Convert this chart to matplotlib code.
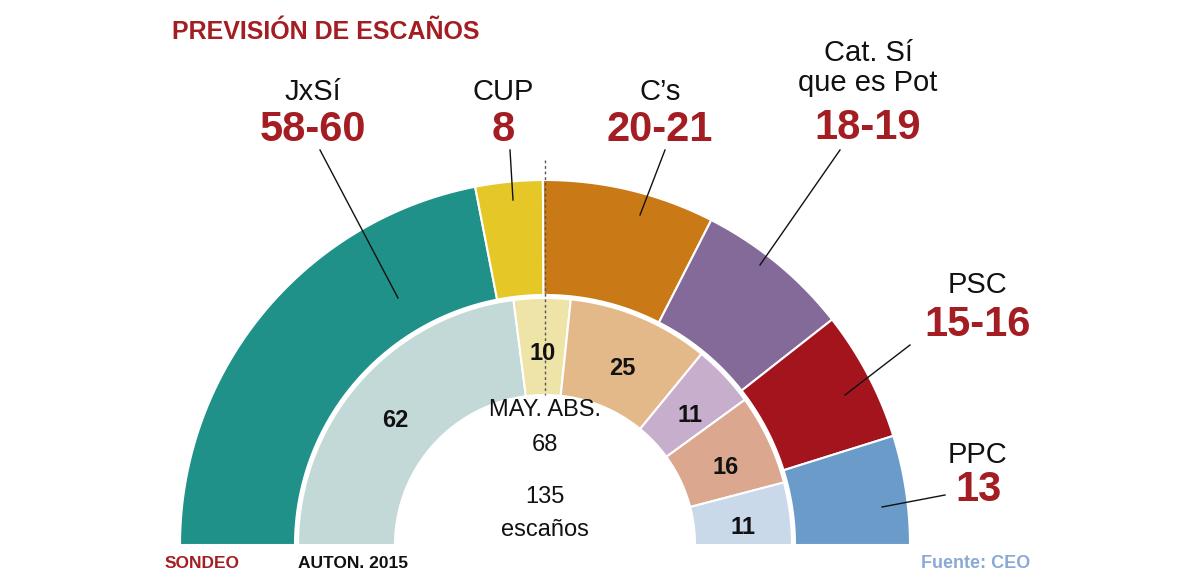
import numpy as np
import matplotlib
matplotlib.use("Agg")
import matplotlib.pyplot as plt
from matplotlib.patches import Polygon

plt.rcParams["font.family"] = "Liberation Sans"

parties = ["JxSí", "CUP", "C’s", "Cat. Sí\nque es Pot", "PSC", "PPC"]
forecast_labels = ["58-60", "8", "20-21", "18-19", "15-16", "13"]
forecast_mid = [59, 8, 20.5, 18.5, 15.5, 13]
seats_2015 = [62, 10, 25, 11, 16, 11]
outer_colors = ["#1f9189", "#e5c828", "#c97a17", "#836a98", "#a3141d", "#6a9bc9"]
inner_colors = ["#c3d9d8", "#efe4a8", "#e4b98a", "#c7aecd", "#dba88f", "#c9d9ea"]
total = 135
majority = 68

fig = plt.figure(figsize=(12, 5.81), dpi=100)
ax = fig.add_axes([0, 0, 1, 1])
ax.set_xlim(0, 1200); ax.set_ylim(581, 0); ax.axis("off")
cx, cy = 545, 545
RED = "#a31d23"

def ring(values, r0, r1, colors, tot):
    cum = np.concatenate([[0], np.cumsum(values)]) / tot * np.pi
    mids = []
    for i, c in enumerate(colors):
        t = np.linspace(np.pi - cum[i], np.pi - cum[i + 1], 60)
        xs = np.concatenate([cx + r1 * np.cos(t), cx + r0 * np.cos(t[::-1])])
        ys = np.concatenate([cy - r1 * np.sin(t), cy - r0 * np.sin(t[::-1])])
        ax.add_patch(Polygon(np.column_stack([xs, ys]), closed=True, fc=c, ec="white", lw=1.5))
        mids.append(np.pi - (cum[i] + cum[i + 1]) / 2)
    return mids

ring(forecast_mid, 250, 365, outer_colors, sum(forecast_mid))
mids = ring(seats_2015, 150, 247, inner_colors, total)
for m, v in zip(mids, seats_2015):
    ax.text(cx + 200 * np.cos(m), cy - 200 * np.sin(m) + 8, str(v), ha="center", va="center",
            fontsize=17, fontweight="bold", color="#111")

ax.plot([545, 545], [160, 395], ls=(0, (2, 2)), color="#555", lw=1)

name_pos = [(313, 92), (503, 92), (660, 92), (868, 68), (978, 285), (978, 455)]
num_pos = [(313, 130), (503, 130), (660, 130), (868, 128), (978, 325), (978, 490)]
lines = [((320, 150), (398, 298)), ((510, 150), (513, 200)), ((665, 150), (640, 215)),
         ((840, 150), (760, 265)), ((910, 345), (845, 395)), ((945, 495), (882, 507))]
for n, l, p1, p2, ln in zip(parties, forecast_labels, name_pos, num_pos, lines):
    ax.text(*p1, n, ha="center", va="center", fontsize=21, color="#111", linespacing=1.1)
    ax.text(*p2, l, ha="center", va="center", fontsize=30, fontweight="bold", color=RED)
    ax.plot([ln[0][0], ln[1][0]], [ln[0][1], ln[1][1]], color="#111", lw=1)

ax.text(172, 32, "PREVISIÓN DE ESCAÑOS", fontsize=18, fontweight="bold", color=RED, va="center")
ax.text(545, 410, "MAY. ABS.", ha="center", va="center", fontsize=17, color="#111")
ax.text(545, 445, str(majority), ha="center", va="center", fontsize=17, color="#111")
ax.text(545, 497, str(total), ha="center", va="center", fontsize=17, color="#111")
ax.text(545, 530, "escaños", ha="center", va="center", fontsize=17, color="#111")
ax.text(165, 563, "SONDEO", fontsize=12.5, fontweight="bold", color=RED, va="center")
ax.text(298, 563, "AUTON. 2015", fontsize=12.5, fontweight="bold", color="#111", va="center")
ax.text(1030, 563, "Fuente: CEO", fontsize=13, fontweight="bold", color="#8aa9d6", va="center", ha="right")
fig.savefig("out.png", dpi=100)
